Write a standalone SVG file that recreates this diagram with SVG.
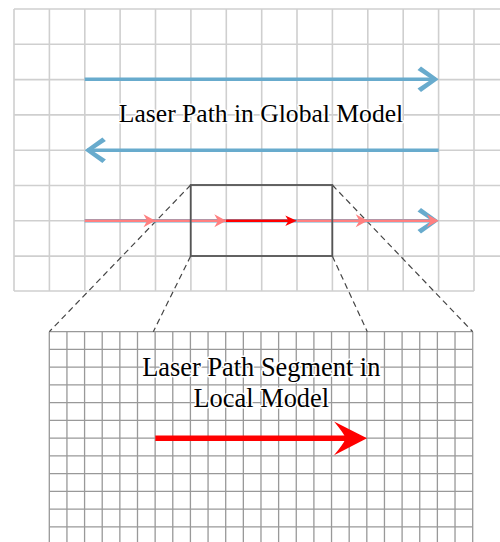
<svg xmlns="http://www.w3.org/2000/svg" width="500" height="542" viewBox="0 0 500 542">
<style>
.g1{stroke:#cfcfcf;stroke-width:1.6;fill:none}
.g2{stroke:#999;stroke-width:1.3;fill:none}
.blue{stroke:#68abcd;stroke-width:3.4;fill:none}
.bhead{fill:#68abcd}
.pink{stroke:#ff8080;stroke-width:2.6;fill:none}
.phead{fill:#ff8080}
.red{stroke:#ff0000;fill:none}
.rhead{fill:#ff0000}
.dash{stroke:#444;stroke-width:1.2;stroke-dasharray:6,4;fill:none}
.lbl{font-family:"Liberation Serif","Times New Roman",serif;fill:#000;text-anchor:middle;stroke:#fff;stroke-width:3;paint-order:stroke;stroke-linejoin:round}
</style>
<rect width="500" height="542" fill="#fff"/>
<g id="global-grid">
<path class="g1" d="M14,9V291M49.4,9V291M84.8,9V291M120.1,9V291M155.5,9V291M190.9,9V291M226.3,9V291M261.7,9V291M297,9V291M332.4,9V291M367.8,9V291M403.2,9V291M438.6,9V291M474,9V291"/>
<path class="g1" d="M14,9H500M14,44.3H500M14,79.6H500M14,114.9H500M14,150.2H500M14,185.5H500M14,220.8H500M14,256.1H500M14,291H474"/>
</g>
<g id="local-grid">
<path class="g2" d="M49.3,331.7V542M66.94,331.7V542M84.58,331.7V542M102.22,331.7V542M119.86,331.7V542M137.5,331.7V542M155.14,331.7V542M172.78,331.7V542M190.42,331.7V542M208.06,331.7V542M225.7,331.7V542M243.34,331.7V542M260.98,331.7V542M278.62,331.7V542M296.26,331.7V542M313.9,331.7V542M331.54,331.7V542M349.18,331.7V542M366.82,331.7V542M384.46,331.7V542M402.1,331.7V542M419.74,331.7V542M437.38,331.7V542M455.02,331.7V542M472.7,331.7V542"/>
<path class="g2" d="M49.3,331.7H472.7M49.3,349.45H472.7M49.3,367.2H472.7M49.3,384.95H472.7M49.3,402.7H472.7M49.3,420.45H472.7M49.3,438.2H472.7M49.3,455.95H472.7M49.3,473.7H472.7M49.3,491.45H472.7M49.3,509.2H472.7M49.3,526.95H472.7"/>
</g>
<g id="connectors">
<path class="dash" d="M190.7,185L49.3,331.7M190.7,256L153.3,331.7M332.3,185L472.7,331.7M332.3,256L367.3,331.7"/>
</g>
<g id="global-arrow-1">
<path class="blue" d="M84.7,79.3H436"/>
<path class="bhead" d="M438.7,79.3L421,92L417.5,88.5L431.5,79.3L417.5,70.1L421,66.6Z"/>
</g>
<g id="global-arrow-2">
<path class="blue" d="M87,150.2H438.7"/>
<path class="bhead" d="M84.7,150.2L102.4,137.5L105.9,141L91.9,150.2L105.9,159.4L102.4,162.9Z"/>
</g>
<g id="global-arrow-3">
<path class="blue" d="M84.7,220.8H436"/>
<path class="bhead" d="M438.7,220.8L421,233.5L417.5,230L431.5,220.8L417.5,211.6L421,208.1Z"/>
<path class="pink" d="M84.7,220.8H226M296.7,220.8H436"/>
<path class="red" stroke-width="2.6" d="M226,220.8H290"/>
<path class="phead" d="M155.4,220.8L143.5,214.3L147.2,220.8L143.5,227.3Z"/>
<path class="phead" d="M226.2,220.8L214.3,214.3L218,220.8L214.3,227.3Z"/>
<path class="rhead" d="M296.8,220.8L285.3,215.6L288.5,220.8L285.3,226Z"/>
<path class="phead" d="M367.6,220.8L355.7,214.3L359.4,220.8L355.7,227.3Z"/>
<path class="phead" d="M438.7,220.8L426.8,214.3L430.5,220.8L426.8,227.3Z"/>
</g>
<g id="zoom-box">
<rect x="190.7" y="185" width="141.6" height="71" fill="none" stroke="#555" stroke-width="1.8"/>
</g>
<g id="global-label">
<text class="lbl" x="261" y="122" font-size="25.6">Laser Path in Global Model</text>
</g>
<g id="local-label">
<text class="lbl" x="261.3" y="376" font-size="26.4">Laser Path Segment in</text>
<text class="lbl" x="261.3" y="406.7" font-size="26.4">Local Model</text>
</g>
<g id="local-arrow">
<path class="red" stroke-width="5.5" d="M155.3,438.3H346"/>
<path class="rhead" d="M367,438.3L334,421.5Q346,436 345,438.3Q346,441 334,455.2Z"/>
</g>
</svg>
